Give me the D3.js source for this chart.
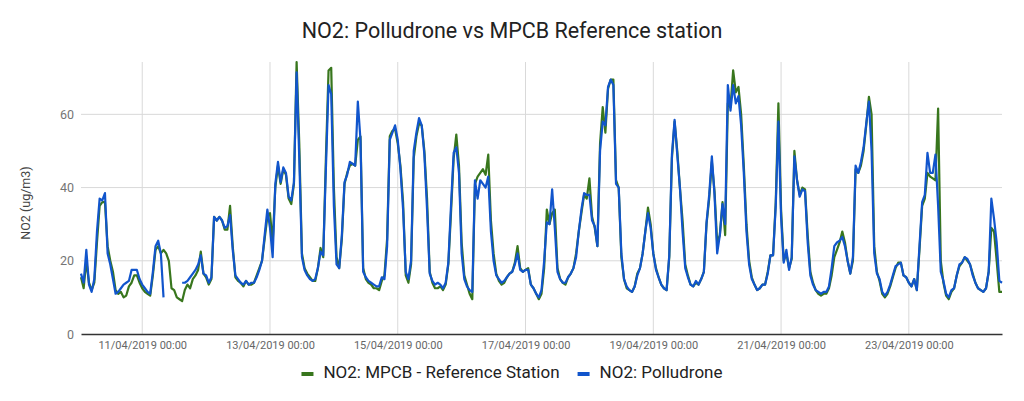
<!DOCTYPE html>
<html>
<head>
<meta charset="utf-8">
<script src="https://cdn.jsdelivr.net/npm/d3@7/dist/d3.min.js"></script>
<style>
  body { margin: 0; background: #fff; }
  svg { display: block; font-family: Roboto, sans-serif; }
</style>
</head>
<body>
<svg></svg>
<script>
// Data (hourly readings, first one at 10/04/2019 01:00)

const startTime = new Date(2019, 3, 10, 1)

const seriesNames = ['NO2: MPCB - Reference Station', 'NO2: Polludrone']
const seriesColors = ['#38761d', '#1155cc']

// MPCB reference station, ug/m3
const reference = [
  15.5,12.5,20,14,12,14,25,35,36,36,24,20,17,12,11,11.5,10,10.5,13,14,16,16,14,12.5,
  11.5,11,10.5,16,23,24,22,23,22,20,12.5,12,10,9.5,9,12,13.5,12.5,15,16,17.5,22.5,16.5,15.5,
  13.5,15,32,31,32,31,28.5,28.5,35,24,15.5,14.5,14,13,14.5,13.5,13.5,14,16,18,20,26,32,33,
  25,40,46,41,45,43.5,37,35.5,41,74.3,52,22,18,16.5,15.5,14.5,14.5,18,23.5,21,48,72,72.7,40,
  21,18,26,41,44,46,46.5,46,53,54,18,15,14,13.5,12.5,12.5,12,14.5,16,26,54,55.5,56,52,
  46,36,16,14,19,48,54,57.5,57,50,37,17,14,12.5,12.5,13,12,13.5,19,33,48,54.5,46,25,
  16,13.5,11,9.5,41,43,44,45,43.5,49,31,22,16.5,14.5,13.5,14,15.5,16.5,17,19.5,24,18,17,17.5,
  18,13.5,12.5,11,9.5,11,18,34,30,33,34,18,15,14,13.5,15.5,16.5,18,22,28,33,38,37,42.5,
  32,29,24,52,62,55,67,69.5,69.5,42,40,21,15,12.5,12,11.5,13,16.5,18,22,28,34.5,30,22,
  18,15.5,13.5,12.5,12,21,48,58,50,40,31,19,16,13.5,13,14,13.5,15,17,30,37,47,39,25,
  27,36,27,63,62,72,66,67.5,60,46,30,20,15.5,13.5,12,12.5,13.5,13.5,17,21.5,21.5,36,63,34,
  20,22,18,20.5,50,42,38,40,39.5,27,17,14,12,11,10.5,11,11,12.5,16,21,23,25,28,25,
  20,16.5,20,45,44,46,50,57,64.8,60,24,17,14.5,11,10,11,13,15.5,18,19.5,19.5,16,15.5,14,
  13,15,12,23,35,37,44,43,42.5,42,61.6,20,14,10.5,9.5,11.5,12.5,16,18.5,19.5,21,20,19,16.5,
  14,12.5,12,11.5,12.5,17,29,28,20,11.5,11.5,
]

// Polludrone, ug/m3 (null = no reading)
const polludrone = [
  16.5,14,23,13.5,11.5,15,28,37,36.5,38.5,22,19,15,11,11.5,12.5,13.5,14,14.5,17.5,17.5,17.5,15,13.5,
  12.5,11.5,11,17,24,25.5,22,10,null,null,null,null,null,null,14,14,14.5,15.5,16.5,17.5,19,21.5,16.5,16,
  14,15.5,32,31,32,31,29,29.5,32.5,23,16,15,14,13.5,14.5,13.5,14,14,15.5,17.5,20,27,34,29,
  21,41,47,41.5,45.5,44,37.5,36.5,41.5,71.5,48,21,17.5,16,15,14.5,15,18,22.5,21.5,45,68,65.5,35,
  19,18,27,41.5,43.5,47,46.5,46,63.5,53,17,15.5,14.5,14,13.5,13,13,15.5,15,24,53,55,57,53,
  45,34,17,15,20,50,55,59,57,49,34,16.5,14.5,13.5,14,13.5,12.5,14,19.5,35,49.5,51,44,22,
  15,13,12,11.5,42,37,42,41,40,43,28,20,16,15,14,14.5,15.5,16.5,17,19,22,17.5,17,17.5,
  17.5,13.5,12.5,11,10,12,20,30.5,30,39.5,29,17,15,14,14,15.5,16.5,18,21,28,34,38.5,38,38,
  31,29.5,24,50,58,57,67.5,69.5,68,41,40,22,15,13,12,11.5,13,16,18,22,28,33,29,22,
  17.5,15.5,13.5,12.5,12,21.5,49,58.5,49,40,28,18,15.5,13.5,13,14.5,13.5,15,17,30.5,38,48.5,38,22,
  27,35.5,30,68,61,68,63,65,57,44,28,19,15,13.5,12,12.5,13.5,13.5,16.5,21.5,21.5,35,58,32,
  19.5,23,17.5,21,48.5,42,37.5,39.5,39,25,16,13.5,12,11.5,11,11.5,11.5,13,18,24,25,25.5,26.5,24,
  20,16.5,21,46,44,47,51,57.5,63.5,50,22,16.5,15,11.5,10.5,11.5,13.5,16,18.5,19,19.5,16,15.5,14,
  13,15,12,24,36,38,49.5,44,44,49,35,17,14.5,11,10,12,12.5,16,19,19.5,21,20.5,19,16,
  14,12.5,12,11.5,12.5,17,37,31.5,25,14.5,14,
]

const xTickLabels = [
  '11/04/2019 00:00', '13/04/2019 00:00', '15/04/2019 00:00', '17/04/2019 00:00',
  '19/04/2019 00:00', '21/04/2019 00:00', '23/04/2019 00:00',
]
const yTickValues = [0, 20, 40, 60]

const title = 'NO2: Polludrone vs MPCB Reference station'
const yTitle = 'NO2 (ug/m3)'

// Layout

const width = 1024
const height = 401
const margin = {top: 62, right: 22, bottom: 67, left: 81}

const parseTick = d3.timeParse('%d/%m/%Y %H:%M')
const formatTick = d3.timeFormat('%d/%m/%Y %H:%M')

const times = reference.map((v, i) => d3.timeHour.offset(startTime, i))
const series = [reference, polludrone]

const svg = d3.select('svg')
    .attr('width', width)
    .attr('height', height)

const x = d3.scaleTime()
    .domain(d3.extent(times))
    .range([margin.left, width - margin.right])

const y = d3.scaleLinear()
    .domain([0, d3.max(series.flat())])
    .range([height - margin.bottom, margin.top])

// Title

svg.append('text')
    .attr('x', width/2)
    .attr('y', 38)
    .attr('text-anchor', 'middle')
    .attr('fill', '#222')
    .style('font-size', '21.5px')
    .text(title)

// Grid

const grid = svg.append('g')
    .attr('class', 'grid')

grid.selectAll('line.h').data(yTickValues.filter(v => v > 0)).join('line')
    .attr('class', 'h')
    .attr('x1', margin.left)
    .attr('x2', width - margin.right)
    .attr('y1', d => y(d))
    .attr('y2', d => y(d))
    .attr('stroke', '#d9d9d9')
    .attr('stroke-width', 1)

grid.selectAll('line.v').data(xTickLabels.map(parseTick)).join('line')
    .attr('class', 'v')
    .attr('x1', d => x(d))
    .attr('x2', d => x(d))
    .attr('y1', margin.top)
    .attr('y2', height - margin.bottom)
    .attr('stroke', '#d9d9d9')
    .attr('stroke-width', 1)

// Axes

const xAxis = svg.append('g')
    .attr('transform', `translate(0, ${height - margin.bottom})`)
    .call(d3.axisBottom(x)
      .tickValues(xTickLabels.map(parseTick))
      .tickFormat(formatTick)
      .tickSize(0)
      .tickSizeOuter(0)
      .tickPadding(7))

xAxis.select('.domain')
    .attr('stroke', '#333')
    .attr('stroke-width', 1.3)

xAxis.selectAll('text')
    .attr('fill', '#666')
    .style('font-family', 'Roboto, sans-serif')
    .style('font-size', '11px')

const yAxis = svg.append('g')
    .attr('transform', `translate(${margin.left}, 0)`)
    .call(d3.axisLeft(y)
      .tickValues(yTickValues)
      .tickSize(0)
      .tickPadding(7))

yAxis.select('.domain').remove()

yAxis.selectAll('text')
    .attr('fill', '#757575')
    .style('font-family', 'Roboto, sans-serif')
    .style('font-size', '12.5px')

svg.append('text')
    .attr('transform', `translate(30, ${(margin.top + height - margin.bottom)/2 + 5}) rotate(-90)`)
    .attr('text-anchor', 'middle')
    .attr('fill', '#444')
    .style('font-size', '12.5px')
    .text(yTitle)

// Lines

const line = d3.line()
    .defined(d => d[1] != null)
    .x(d => x(d[0]))
    .y(d => y(d[1]))

svg.append('g')
    .attr('class', 'lines')
  .selectAll('path').data(series).join('path')
    .attr('d', s => line(s.map((v, i) => [times[i], v])))
    .attr('fill', 'none')
    .attr('stroke', (s, i) => seriesColors[i])
    .attr('stroke-width', 2.2)
    .attr('stroke-linejoin', 'round')

// Legend

const legend = svg.append('g')
    .attr('class', 'legend')

let cursor = 0
seriesNames.forEach((name, i) => {
  const item = legend.append('g')
      .attr('transform', `translate(${cursor}, 0)`)

  item.append('rect')
      .attr('x', 0)
      .attr('y', -6)
      .attr('width', 12)
      .attr('height', 4)
      .attr('fill', seriesColors[i])

  const label = item.append('text')
      .attr('x', 22)
      .attr('y', 0)
      .attr('fill', '#222')
      .style('font-size', '17px')
      .text(name)

  cursor += 22 + label.node().getComputedTextLength() + 18
})

const legendWidth = cursor - 18
legend.attr('transform', `translate(${width/2 - legendWidth/2}, 378)`)
</script>
</body>
</html>
